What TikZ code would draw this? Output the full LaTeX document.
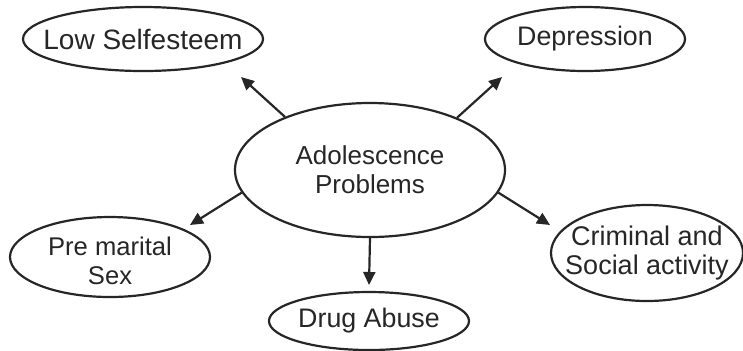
\documentclass[tikz,border=0pt]{standalone}
\usepackage{fontspec}
\setmainfont{Liberation Sans}
\usetikzlibrary{shapes.geometric,arrows.meta}
\definecolor{ink}{HTML}{262626}
\begin{document}
\begin{tikzpicture}[x=0.5pt,y=-0.5pt,
  bubble/.style={ellipse,draw=ink,line width=1.1pt,inner sep=0pt},
  lbl/.style={align=center,text=ink,inner sep=0pt},
  fs/.style={font=\fontsize{#1}{14.5}\selectfont},
  arr/.style={draw=ink,line width=1.1pt,-{Triangle[length=6.5pt,width=6pt]}}]
\useasboundingbox (0,0) rectangle (743,350);
\node[bubble,minimum width=135pt,minimum height=67pt,label={[lbl,fs=13]center:{Adolescence\\Problems}}] (c) at (370,170) {};
\node[bubble,minimum width=120pt,minimum height=32pt,label={[lbl,fs=14]center:{Low Selfesteem}}] (ls) at (143,39) {};
\node[bubble,minimum width=100pt,minimum height=32pt,label={[lbl,fs=13.4]center:{Depression}}] (dp) at (585,39) {};
\node[bubble,minimum width=100pt,minimum height=40pt,label={[lbl,fs=12.8,yshift=-2pt]center:{Pre marital\\Sex}}] (pm) at (110,257) {};
\node[bubble,minimum width=96pt,minimum height=48pt,label={[lbl,fs=13.5]center:{Criminal and\\Social activity}}] (cr) at (647,253) {};
\node[bubble,minimum width=100pt,minimum height=29pt,label={[lbl,fs=13.4]center:{Drug Abuse}}] (da) at (369,321) {};
\coordinate (tls) at (241,77);
\coordinate (tdp) at (502,77);
\coordinate (tpm) at (190,225);
\coordinate (tcr) at (550,225);
\coordinate (tda) at (369,285);
\draw[arr] (c.148.5) -- (tls);
\draw[arr] (c.31.2) -- (tdp);
\draw[arr] (c.190.7) -- (tpm);
\draw[arr] (c.-10.2) -- (tcr);
\draw[arr] (c.south) -- (tda);
\end{tikzpicture}
\end{document}
